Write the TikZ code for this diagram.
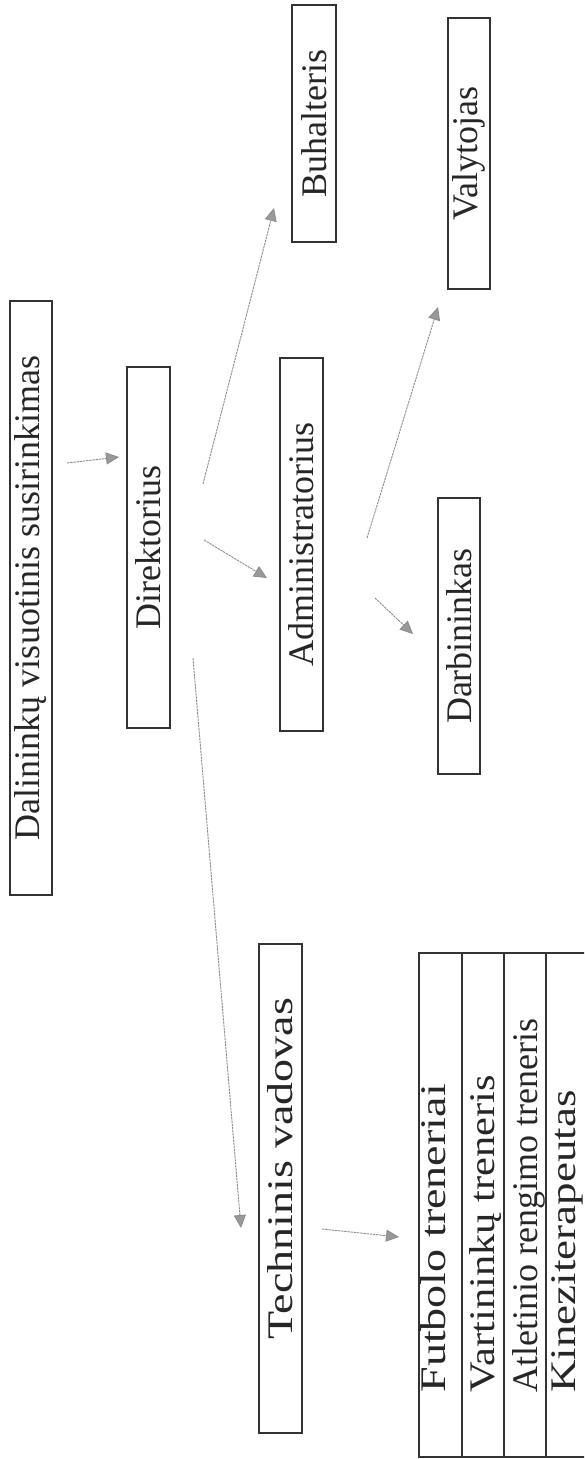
\documentclass[tikz,border=0pt]{standalone}
\usepackage{fontspec}
\setmainfont{Liberation Serif}
\usetikzlibrary{arrows.meta}
\tikzset{
  orgbox/.style={draw=black!80, line width=0.7pt, rotate=90, inner sep=0pt,
    font=\fontsize{18}{20}\selectfont, text=black!85},
  cellbox/.style={draw=black!80, line width=0.7pt, rotate=90, inner sep=0pt},
  celltext/.style={rotate=90, anchor=base west, inner sep=0pt,
    font=\fontsize{18}{20}\selectfont, text=black!85},
  arr/.style={draw=black!45, line width=0.45pt, dash pattern=on 1.2pt off 0.4pt,
    -{Triangle[length=6.5pt,width=6pt,fill=black!40]}},
}
\begin{document}
\begin{tikzpicture}[x=0.5pt,y=-0.5pt]
\useasboundingbox (0,0) rectangle (584,1459);
\clip (0,0) rectangle (584,1459);
% boxes
\node[orgbox, minimum width=297pt, minimum height=21pt] (dal) at (31,598) {Dalininkų visuotinis susirinkimas};
\node[orgbox, minimum width=180.5pt, minimum height=21.5pt] (dir) at (148.5,547.5) {Direktorius};
\node[orgbox, minimum width=186.5pt, minimum height=21.5pt] (adm) at (301.5,544.5) {Administratorius};
\node[orgbox, minimum width=118.5pt, minimum height=22pt] (buh) at (314,123.5) {Buhalteris};
\node[orgbox, minimum width=135.5pt, minimum height=21pt] (val) at (469,153.5) {Valytojas};
\node[orgbox, minimum width=138pt, minimum height=21pt] (dar) at (459,636) {Darbininkas};
\node[orgbox, minimum width=244.5pt, minimum height=21.5pt] (tech) at (280.5,1188.5) {\hspace*{20pt}\scalebox{1.28}[1]{Techninis vadovas}};
% table
\node[cellbox, minimum width=252pt, minimum height=21.5pt] (t1) at (440.5,1205) {};
\node[cellbox, minimum width=252pt, minimum height=21pt] (t2) at (483,1205) {};
\node[cellbox, minimum width=252pt, minimum height=21pt] (t3) at (525,1205) {};
\node[cellbox, minimum width=252pt, minimum height=21pt] (t4) at (567,1205) {};
\node[celltext] (t1l) at (445,1393) {\scalebox{1.28}[1]{Futbolo treneriai}};
\node[celltext] (t2l) at (494,1393) {\scalebox{1.18}[1]{Vartininkų treneris}};
\node[celltext] (t3l) at (537,1393) {Atletinio rengimo treneris};
\node[celltext] (t4l) at (575,1393) {\scalebox{1.25}[1]{Kineziterapeutas}};
% connector ends
\coordinate (a1s) at (67,463);   \coordinate (a1e) at (119,457);
\coordinate (a2s) at (203,484);  \coordinate (a2e) at (274,208);
\coordinate (a3s) at (204,540);  \coordinate (a3e) at (267,578);
\coordinate (a4s) at (367,538);  \coordinate (a4e) at (438,307);
\coordinate (a5s) at (375,598);  \coordinate (a5e) at (413,634);
\coordinate (a6s) at (193,658);  \coordinate (a6e) at (241,1228);
\coordinate (a7s) at (322,1229); \coordinate (a7e) at (399,1237);
\draw[arr] (a1s) -- (a1e);
\draw[arr] (a2s) -- (a2e);
\draw[arr] (a3s) -- (a3e);
\draw[arr] (a4s) -- (a4e);
\draw[arr] (a5s) -- (a5e);
\draw[arr] (a6s) -- (a6e);
\draw[arr] (a7s) -- (a7e);
\end{tikzpicture}
\end{document}
